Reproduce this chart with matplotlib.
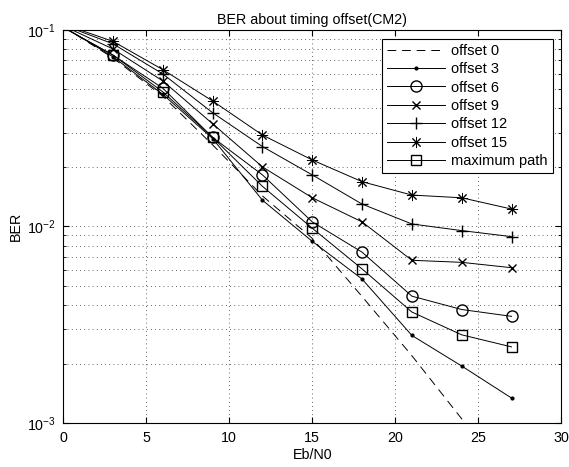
import matplotlib
matplotlib.use('Agg')
import matplotlib.pyplot as plt

plt.rcParams['font.family'] = ['Liberation Sans', 'DejaVu Sans']
plt.rcParams['font.size'] = 10.3
plt.rcParams['mathtext.fontset'] = 'custom'
plt.rcParams['mathtext.rm'] = 'Liberation Sans'

ebn0 = [0, 3, 6, 9, 12, 15, 18, 21, 24, 27]

offset0 = [0.104, 0.072, 0.046, 0.026, 0.0143, 0.0087, 0.0044, 0.0022, 0.00105, 0.0005]
offset3 = [0.104, 0.073, 0.047, 0.0280, 0.0136, 0.0084, 0.0054, 0.00279, 0.00195, 0.00134]
offset6 = [0.103, 0.0745, 0.0505, 0.0284, 0.0183, 0.01055, 0.0074, 0.00442, 0.00378, 0.00349]
offset9 = [0.105, 0.080, 0.055, 0.0333, 0.0201, 0.0140, 0.01055, 0.00673, 0.00657, 0.00617]
offset12 = [0.106, 0.085, 0.0597, 0.0379, 0.0255, 0.0183, 0.0130, 0.0103, 0.00953, 0.00888]
offset15 = [0.107, 0.0875, 0.0628, 0.0435, 0.0292, 0.0218, 0.0169, 0.01445, 0.0140, 0.01227]
max_path = [0.103, 0.0745, 0.0484, 0.0284, 0.0160, 0.0098, 0.00608, 0.00367, 0.00281, 0.00244]

series = [
    (offset0, 'offset 0', dict(ls=(0, (9, 6)), marker=None)),
    (offset3, 'offset 3', dict(ls='-', marker='.', ms=4)),
    (offset6, 'offset 6', dict(ls='-', marker='o', ms=8, mfc='none')),
    (offset9, 'offset 9', dict(ls='-', marker='x', ms=6)),
    (offset12, 'offset 12', dict(ls='-', marker='+', ms=9)),
    (offset15, 'offset 15', dict(ls='-', marker=(8, 2, 0), ms=8, mew=0.7)),
    (max_path, 'maximum path', dict(ls='-', marker='s', ms=7, mfc='none')),
]

fig = plt.figure(figsize=(5.69, 4.67), dpi=100)
ax = fig.add_axes([0.1112, 0.0942, 0.8753, 0.8416])

for vals, lab, st in series:
    ax.semilogy(ebn0, vals, color='k', lw=0.7, markevery=slice(1, None),
                label=lab, **st)

ax.set_xlim(0, 30)
ax.set_ylim(1e-3, 1e-1)
ax.set_xticks([0, 5, 10, 15, 20, 25, 30])

grid_style = dict(ls=(0, (1, 4)), color='0.2', lw=0.6)
ax.grid(True, which='major', **grid_style)
ax.grid(True, which='minor', axis='y', **grid_style)
ax.tick_params(which='both', direction='in', top=True, right=True)
ax.tick_params(which='major', length=4)
ax.tick_params(which='minor', length=2)
ax.tick_params(axis='x', pad=6)
ax.tick_params(axis='y', pad=5)
for s in ax.spines.values():
    s.set_linewidth(0.8)

ax.set_title('BER about timing offset(CM2)', fontsize=10.3, pad=4)
ax.set_xlabel('Eb/N0', labelpad=2)
ax.set_ylabel('BER', labelpad=3)

leg = ax.legend(loc='upper right', fancybox=False, edgecolor='k',
                framealpha=1, borderaxespad=0.6, handlelength=4.0,
                handletextpad=0.4, labelspacing=0.3, borderpad=0.35,
                fontsize=10.5)
leg.get_frame().set_linewidth(0.8)

fig.savefig('out.png', dpi=100)
